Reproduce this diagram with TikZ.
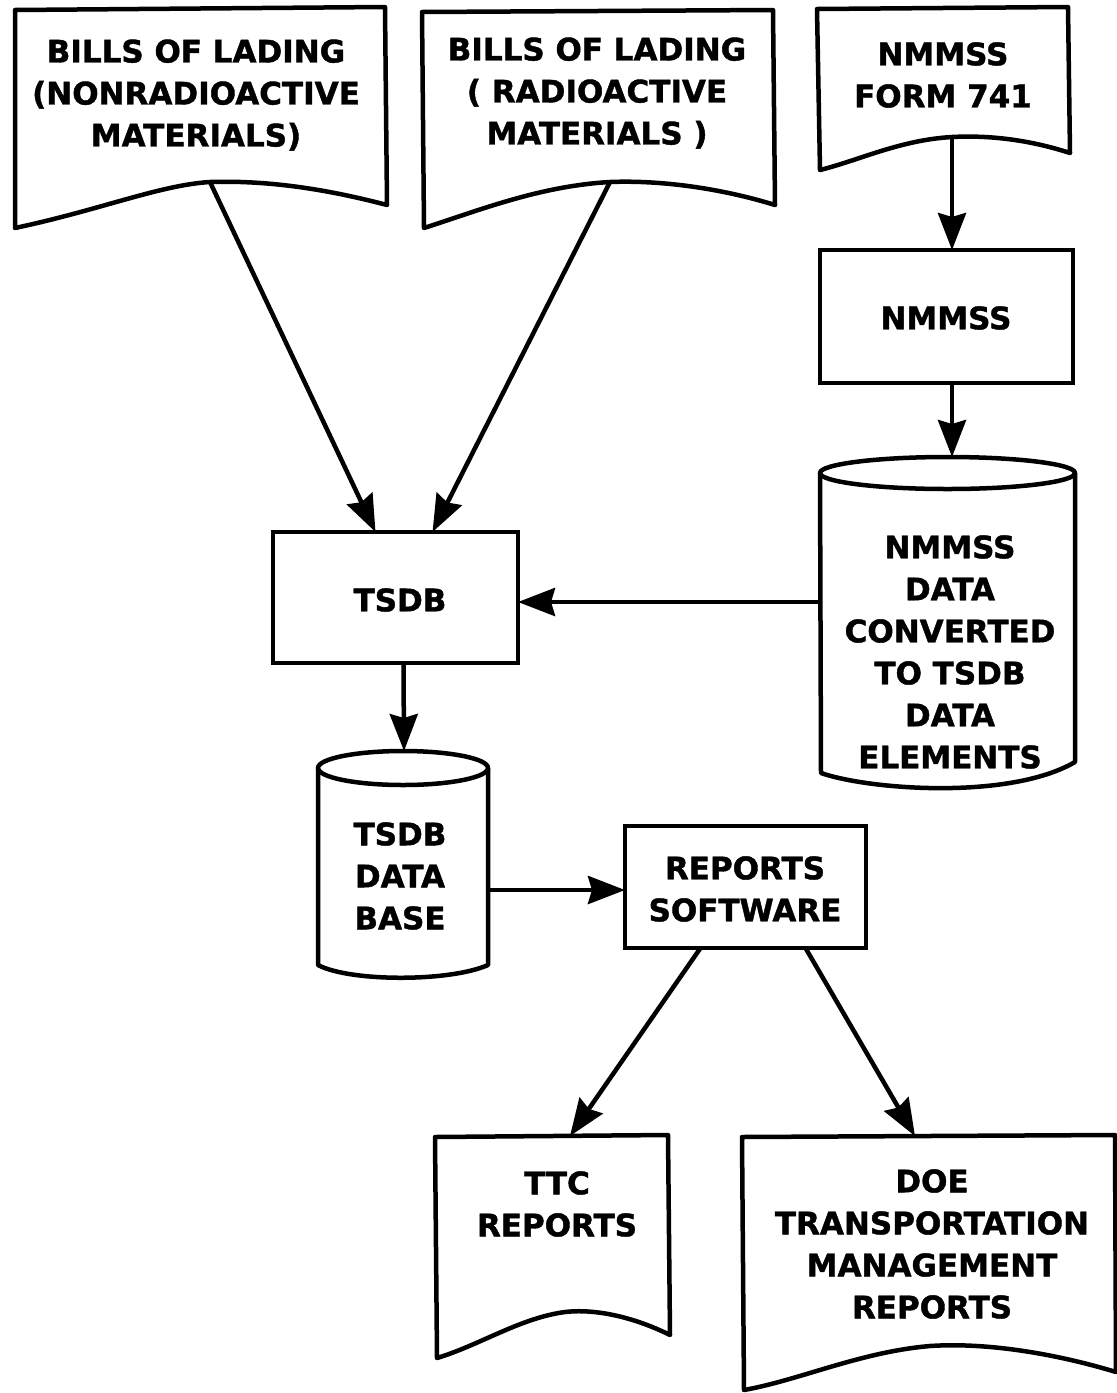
\documentclass[tikz,border=0pt]{standalone}
\usepackage{fontspec}
\setmainfont{DejaVu Sans}[BoldFeatures={FakeBold=1.3}]
\usetikzlibrary{arrows.meta}
\begin{document}
\begin{tikzpicture}[x=1pt,y=-1pt,
  shapeline/.style={line width=4.5pt,line join=round},
  boxnode/.style={draw,line width=4.5pt,inner sep=0pt,outer sep=0pt},
  lab/.style={align=center,font=\bfseries\fontsize{31}{42}\selectfont},
  arr/.style={line width=4.5pt,-{Stealth[length=37pt,width=28pt,inset=4pt]}}]
\useasboundingbox (0,0) rectangle (1117,1393);

% documents
\draw[shapeline] (15,10) -- (385,7) -- (387,205) .. controls (330,190) and (270,180) .. (210,182) .. controls (160,185) and (100,210) .. (15,228) -- cycle;
\coordinate (d1) at (210,182);
\node[lab] (t1) at (196,95) {BILLS OF LADING\\(NONRADIOACTIVE\\MATERIALS)};

\draw[shapeline] (422,12) -- (773,10) -- (775,205) .. controls (720,188) and (660,180) .. (610,182) .. controls (540,186) and (480,210) .. (424,228) -- cycle;
\coordinate (d2) at (610,182);
\node[lab] (t2) at (597,93) {BILLS OF LADING\\( RADIOACTIVE\\MATERIALS )};

\draw[shapeline] (817,9) -- (1068,7) -- (1070,153) .. controls (1030,140) and (990,135) .. (952,137) .. controls (900,140) and (860,160) .. (820,170) -- cycle;
\coordinate (d3) at (952,137);
\node[lab] (t3) at (943,75) {NMMSS\\FORM 741};

\draw[shapeline] (435,1137) -- (668,1135) -- (670,1335) .. controls (640,1320) and (600,1308) .. (565,1312) .. controls (520,1318) and (480,1345) .. (437,1358) -- cycle;
\coordinate (ttctop) at (570,1136);
\node[lab] (t4) at (557,1204) {TTC\\REPORTS};

\draw[shapeline] (742,1137) -- (1115,1135) -- (1116,1372) .. controls (1060,1355) and (990,1342) .. (930,1346) .. controls (860,1352) and (800,1380) .. (744,1390) -- cycle;
\coordinate (doetop) at (915,1136);
\node[lab] (t5) at (932,1244) {DOE\\TRANSPORTATION\\MANAGEMENT\\REPORTS};

% boxes
\node[boxnode,minimum width=253pt,minimum height=133pt] (nmmss) at (946.5,316.5) {};
\node[lab] at (946,318) {NMMSS};
\node[boxnode,minimum width=245pt,minimum height=131pt] (tsdb) at (395.5,597.5) {};
\node[lab] at (400,600) {TSDB};
\node[boxnode,minimum width=241pt,minimum height=122pt] (rep) at (745.5,887) {};
\node[lab] at (745,889) {REPORTS\\SOFTWARE};

% cylinders
\draw[shapeline] (820,473) -- (821,773) .. controls (870,790) and (1010,800) .. (1075,762) -- (1075,473);
\draw[shapeline] (947.5,473) ellipse [x radius=127.5, y radius=16];
\coordinate (cyl1top) at (952,457);
\coordinate (cyl1left) at (820,602);
\node[lab] (t6) at (950,652) {NMMSS\\DATA\\CONVERTED\\TO TSDB\\DATA\\ELEMENTS};

\draw[shapeline] (318,768) -- (318,965) .. controls (350,982) and (450,982) .. (488,965) -- (488,768);
\draw[shapeline] (403,768) ellipse [x radius=85, y radius=17];
\coordinate (cyl2top) at (404,751);
\coordinate (cyl2right) at (488,890);
\node[lab] (t7) at (400,876) {TSDB\\DATA\\BASE};

% connectors
\draw[arr] (d1) -- ([xshift=-20pt]tsdb.north);
\draw[arr] (d2) -- ([xshift=37pt]tsdb.north);
\draw[arr] (d3) -- (d3 |- nmmss.north);
\draw[arr] (nmmss.south -| cyl1top) -- (cyl1top);
\draw[arr] (cyl1left) -- (cyl1left -| tsdb.east);
\draw[arr] ([xshift=8pt]tsdb.south) -- (cyl2top);
\draw[arr] (cyl2right) -- (cyl2right -| rep.west);
\draw[arr] ([xshift=-45pt]rep.south) -- (ttctop);
\draw[arr] ([xshift=60pt]rep.south) -- (doetop);
\end{tikzpicture}
\end{document}
